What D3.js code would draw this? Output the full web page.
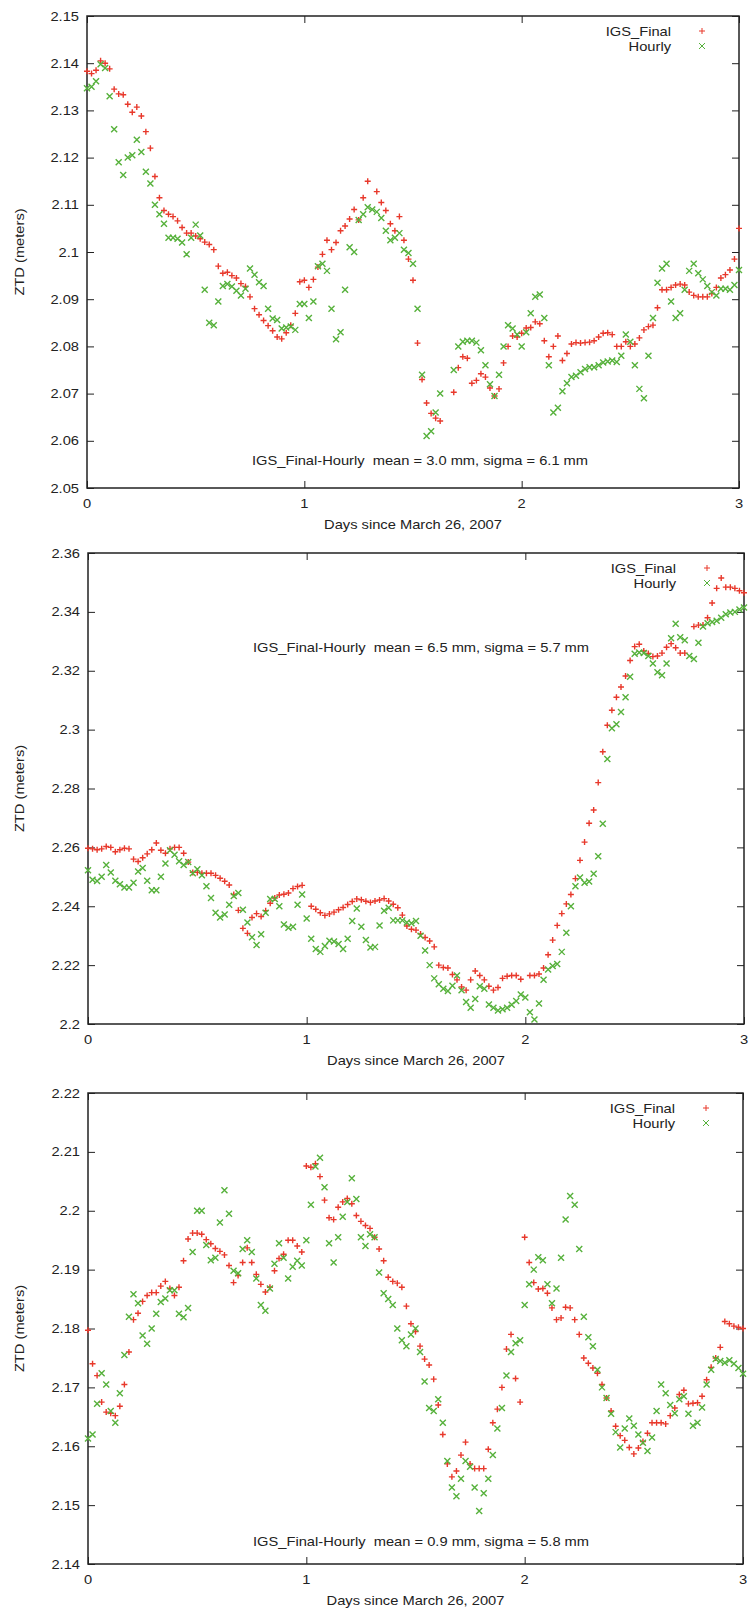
<!DOCTYPE html>
<html>
<head>
<meta charset="utf-8">
<script src="https://cdn.jsdelivr.net/npm/d3@7"></script>
<style>
  html, body { margin: 0; padding: 0; background: #fff; }
  svg { display: block; }
  text { font-family: "Liberation Sans", Arial, Helvetica, sans-serif; font-size: 13px; fill: #222; white-space: pre; }
</style>
</head>
<body>
<svg id="chart" width="751" height="1609"></svg>
<script>
// Zenith total delay, three stations, 3 days from March 26, 2007.
// Samples are half-hourly (1/48 day); null marks a data gap.
const samplesPerDay = 48;

const xTickValues = [0, 1, 2, 3];
const xTickLabels = ["0", "1", "2", "3"];
const seriesNames = ["IGS_Final", "Hourly"];

// Panel 1
const yTicks1 = [2.05, 2.06, 2.07, 2.08, 2.09, 2.10, 2.11, 2.12, 2.13, 2.14, 2.15];
const yTickLabels1 = ["2.05", "2.06", "2.07", "2.08", "2.09", "2.1", "2.11", "2.12", "2.13", "2.14", "2.15"];
const stats1 = "IGS_Final-Hourly  mean = 3.0 mm, sigma = 6.1 mm";
const final1 = [
  2.1383, 2.1378, 2.1385, 2.1405, 2.1400, 2.1388, 2.1345, 2.1335, 2.1333, 2.1313,
  2.1296, 2.1307, 2.1288, 2.1255, 2.1220, 2.1160, 2.1115, 2.1088, 2.1080, 2.1075,
  2.1066, 2.1052, 2.1040, 2.1040, 2.1034, 2.1028, 2.1021, 2.1016, 2.1005, 2.0970,
  2.0955, 2.0957, 2.0950, 2.0945, 2.0933, 2.0927, 2.0905, 2.0880, 2.0867, 2.0855,
  2.0844, 2.0833, 2.0820, 2.0816, 2.0829, 2.0845, 2.0870, 2.0937, 2.0940, 2.0925,
  2.0942, 2.0968, 2.0995, 2.1025, 2.1005, 2.1020, 2.1045, 2.1055, 2.1070, 2.1090,
  2.1068, 2.1115, 2.1150, null,   2.1128, 2.1105, 2.1088, 2.1060, 2.1045, 2.1075,
  2.1025, 2.0985, 2.0940, 2.0807, 2.0730, 2.0680, 2.0658, 2.0648, 2.0642, null,
  null,   2.0703, 2.0755, 2.0778, 2.0775, 2.0722, 2.0728, 2.0742, 2.0735, 2.0712,
  2.0695, 2.0710, 2.0765, 2.0800, 2.0822, 2.0820, 2.0828, 2.0839, 2.0840, 2.0852,
  2.0848, 2.0812, 2.0778, 2.0800, 2.0822, 2.0770, 2.0785, 2.0805, 2.0808, 2.0807,
  2.0808, 2.0809, 2.0812, 2.0820, 2.0828, 2.0829, 2.0825, 2.0800, 2.0800, 2.0810,
  2.0800, 2.0805, 2.0818, 2.0835, 2.0842, 2.0845, 2.0882, 2.0920, 2.0920, 2.0925,
  2.0930, 2.0932, 2.0930, 2.0915, 2.0908, 2.0905, 2.0905, 2.0905, 2.0912, 2.0925,
  2.0945, 2.0952, 2.0962, 2.0985, 2.1050
];
const hourly1 = [
  2.1347, 2.1350, 2.1362, 2.1398, 2.1390, 2.1330, 2.1260, 2.1190, 2.1163, 2.1200,
  2.1205, 2.1238, 2.1212, 2.1170, 2.1145, 2.1100, 2.1080, 2.1060, 2.1030, 2.1030,
  2.1028, 2.1020, 2.0995, 2.1030, 2.1058, 2.1035, 2.0920, 2.0850, 2.0845, 2.0895,
  2.0928, 2.0932, 2.0927, 2.0918, 2.0908, 2.0922, 2.0965, 2.0952, 2.0936, 2.0928,
  2.0880, 2.0859, 2.0856, 2.0838, 2.0840, 2.0842, 2.0835, 2.0890, 2.0890, 2.0860,
  2.0895, 2.0970, 2.0975, 2.0960, 2.0880, 2.0815, 2.0830, 2.0920, 2.1010, 2.1000,
  2.1068, 2.1080, 2.1095, 2.1090, 2.1085, 2.1072, 2.1045, 2.1025, 2.1030, 2.1040,
  2.1005, 2.0998, 2.0975, 2.0880, 2.0740, 2.0610, 2.0620, 2.0660, 2.0700, null,
  null,   2.0750, 2.0800, 2.0810, 2.0812, 2.0812, 2.0808, 2.0792, 2.0760, 2.0720,
  2.0695, 2.0740, 2.0800, 2.0845, 2.0838, 2.0825, 2.0800, 2.0830, 2.0870, 2.0905,
  2.0910, 2.0860, 2.0760, 2.0660, 2.0670, 2.0705, 2.0722, 2.0735, 2.0738, 2.0745,
  2.0752, 2.0756, 2.0756, 2.0760, 2.0766, 2.0768, 2.0770, 2.0767, 2.0780, 2.0825,
  2.0810, 2.0760, 2.0710, 2.0690, 2.0780, 2.0860, 2.0935, 2.0965, 2.0975, 2.0895,
  2.0860, 2.0870, 2.0920, 2.0960, 2.0975, 2.0955, 2.0942, 2.0928, 2.0915, 2.0908,
  2.0922, 2.0922, 2.0920, 2.0930, 2.0962
];

// Panel 2
const yTicks2 = [2.20, 2.22, 2.24, 2.26, 2.28, 2.30, 2.32, 2.34, 2.36];
const yTickLabels2 = ["2.2", "2.22", "2.24", "2.26", "2.28", "2.3", "2.32", "2.34", "2.36"];
const stats2 = "IGS_Final-Hourly  mean = 6.5 mm, sigma = 5.7 mm";
const final2 = [
  2.2597, 2.2595, 2.2592, 2.2595, 2.2603, 2.2600, 2.2585, 2.2592, 2.2597, 2.2595,
  2.2560, 2.2552, 2.2565, 2.2578, 2.2592, 2.2615, 2.2590, 2.2580, 2.2595, 2.2600,
  2.2600, 2.2580, 2.2550, 2.2515, 2.2515, 2.2512, 2.2512, 2.2512, 2.2505, 2.2495,
  2.2485, 2.2472, 2.2440, 2.2386, 2.2325, 2.2308, 2.2362, 2.2375, 2.2365, 2.2385,
  2.2410, 2.2428, 2.2438, 2.2441, 2.2445, 2.2460, 2.2467, 2.2471, null,   2.2400,
  2.2390, 2.2378, 2.2369, 2.2374, 2.2380, 2.2388, 2.2396, 2.2406, 2.2416, 2.2425,
  2.2422, 2.2417, 2.2413, 2.2418, 2.2421, 2.2426, 2.2418, 2.2407, 2.2395, 2.2370,
  2.2333, 2.2322, 2.2319, 2.2306, 2.2294, 2.2282, 2.2262, 2.2200, 2.2192, 2.2190,
  2.2168, 2.2150, 2.2126, 2.2115, 2.2150, 2.2180, 2.2165, 2.2150, 2.2128, 2.2115,
  2.2124, 2.2155, 2.2162, 2.2165, 2.2165, 2.2152, null,   2.2165, 2.2165, 2.2170,
  2.2190, 2.2235, 2.2285, 2.2335, 2.2375, 2.2408, 2.2440, 2.2494, 2.2556, 2.2618,
  2.2682, 2.2727, 2.2820, 2.2925, 2.3015, 2.3066, 2.3110, 2.3145, 2.3182, 2.3235,
  2.3282, 2.3290, 2.3267, 2.3259, 2.3248, 2.3250, 2.3260, 2.3280, 2.3292, 2.3278,
  2.3260, 2.3260, null,   2.3350, 2.3355, 2.3355, 2.3380, 2.3430, 2.3480, 2.3515,
  2.3484, 2.3484, 2.3480, 2.3472, 2.3465
];
const hourly2 = [
  2.2522, 2.2490, 2.2486, 2.2500, 2.2540, 2.2515, 2.2487, 2.2475, 2.2464, 2.2464,
  2.2480, 2.2518, 2.2530, 2.2487, 2.2454, 2.2454, 2.2500, 2.2545, 2.2590, 2.2575,
  2.2553, 2.2540, 2.2550, 2.2512, 2.2526, 2.2505, 2.2468, 2.2428, 2.2378, 2.2362,
  2.2372, 2.2405, 2.2435, 2.2445, 2.2388, 2.2345, 2.2295, 2.2268, 2.2305, 2.2378,
  2.2425, 2.2425, 2.2400, 2.2338, 2.2327, 2.2330, 2.2405, 2.2440, 2.2358, 2.2290,
  2.2255, 2.2245, 2.2265, 2.2283, 2.2280, 2.2272, 2.2255, 2.2290, 2.2350, 2.2392,
  2.2330, 2.2285, 2.2260, 2.2262, 2.2335, 2.2385, 2.2395, 2.2352, 2.2352, 2.2352,
  2.2345, 2.2342, 2.2350, 2.2300, 2.2250, 2.2200, 2.2155, 2.2135, 2.2120, 2.2112,
  2.2130, 2.2165, 2.2115, 2.2075, 2.2055, 2.2085, 2.2128, 2.2120, 2.2066, 2.2055,
  2.2046, 2.2050, 2.2055, 2.2065, 2.2078, 2.2100, 2.2090, 2.2040, 2.2015, 2.2070,
  2.2150, 2.2185, 2.2197, 2.2204, 2.2245, 2.2310, 2.2400, 2.2468, 2.2498, 2.2480,
  2.2484, 2.2510, 2.2570, 2.2680, 2.2900, 2.3005, 2.3018, 2.3060, 2.3110, 2.3180,
  2.3258, 2.3262, 2.3260, 2.3250, 2.3225, 2.3195, 2.3185, 2.3225, 2.3310, 2.3360,
  2.3314, 2.3304, 2.3250, 2.3240, 2.3295, 2.3350, 2.3361, 2.3366, 2.3370, 2.3380,
  2.3392, 2.3398, 2.3400, 2.3408, 2.3415
];

// Panel 3
const yTicks3 = [2.14, 2.15, 2.16, 2.17, 2.18, 2.19, 2.20, 2.21, 2.22];
const yTickLabels3 = ["2.14", "2.15", "2.16", "2.17", "2.18", "2.19", "2.2", "2.21", "2.22"];
const stats3 = "IGS_Final-Hourly  mean = 0.9 mm, sigma = 5.8 mm";
const final3 = [
  2.1797, 2.1740, 2.1720, 2.1675, 2.1658, 2.1656, 2.1652, 2.1668, 2.1705, 2.1760,
  2.1815, 2.1826, 2.1846, 2.1856, 2.1861, 2.1861, 2.1872, 2.1880, 2.1868, 2.1856,
  2.1870, 2.1915, 2.1952, 2.1962, 2.1962, 2.1960, 2.1951, 2.1944, 2.1936, 2.1931,
  2.1925, 2.1907, 2.1878, 2.1890, 2.1912, 2.1937, 2.1912, 2.1892, 2.1875, 2.1862,
  2.1870, 2.1898, 2.1919, 2.1926, 2.1950, 2.1950, 2.1940, 2.1930, 2.2076, 2.2074,
  2.2080, 2.2058, 2.2018, 2.1988, 2.1985, 2.2006, 2.2015, 2.2021, 2.2012, 2.1992,
  2.1982, 2.1975, 2.1970, 2.1955, 2.1935, 2.1915, 2.1887, 2.1880, 2.1877, 2.1870,
  2.1838, 2.1808, 2.1795, 2.1770, 2.1748, 2.1738, 2.1714, 2.1670, 2.1620, 2.1570,
  2.1548, 2.1558, 2.1585, 2.1607, 2.1570, 2.1562, 2.1562, 2.1562, 2.1595, 2.1640,
  2.1663, 2.1700, 2.1765, 2.1790, 2.1715, 2.1675, 2.1955, 2.1912, 2.1878, 2.1867,
  2.1868, 2.1860, 2.1835, 2.1815, 2.1818, 2.1836, 2.1835, 2.1815, 2.1790, 2.1750,
  2.1741, 2.1733, 2.1724, 2.1705, 2.1682, 2.1660, 2.1634, 2.1618, 2.1610, 2.1598,
  2.1587, 2.1597, 2.1608, 2.1622, 2.1640, 2.1640, 2.1640, 2.1638, 2.1652, 2.1665,
  2.1688, 2.1695, 2.1672, 2.1673, 2.1674, 2.1685, 2.1713, 2.1734, 2.1750, 2.1768,
  2.1812, 2.1808, 2.1804, 2.1802, 2.1800
];
const hourly3 = [
  2.1613, 2.1620, 2.1672, 2.1724, 2.1705, 2.1660, 2.1640, 2.1690, 2.1755, 2.1820,
  2.1858, 2.1843, 2.1788, 2.1774, 2.1800, 2.1825, 2.1845, 2.1851, 2.1865, 2.1865,
  2.1825, 2.1819, 2.1835, 2.1930, 2.2000, 2.2000, 2.1942, 2.1916, 2.1920, 2.1980,
  2.2035, 2.1995, 2.1898, 2.1894, 2.1935, 2.1950, 2.1930, 2.1885, 2.1840, 2.1830,
  2.1868, 2.1910, 2.1945, 2.1920, 2.1885, 2.1905, 2.1915, 2.1907, 2.1950, 2.2010,
  2.2075, 2.2090, 2.2040, 2.1945, 2.1912, 2.1955, 2.1990, 2.2015, 2.2055, 2.2020,
  2.1955, 2.1940, 2.1960, 2.1955, 2.1895, 2.1860, 2.1850, 2.1840, 2.1800, 2.1780,
  2.1770, 2.1790, 2.1800, 2.1760, 2.1710, 2.1665, 2.1660, 2.1680, 2.1640, 2.1575,
  2.1530, 2.1515, 2.1545, 2.1575, 2.1565, 2.1530, 2.1490, 2.1520, 2.1545, 2.1585,
  2.1630, 2.1665, 2.1720, 2.1760, 2.1775, 2.1780, 2.1840, 2.1875, 2.1900, 2.1921,
  2.1916, 2.1875, 2.1843, 2.1868, 2.1920, 2.1985, 2.2025, 2.2010, 2.1935, 2.1820,
  2.1785, 2.1770, 2.1730, 2.1700, 2.1682, 2.1655, 2.1624, 2.1598, 2.1630, 2.1647,
  2.1635, 2.1620, 2.1606, 2.1592, 2.1615, 2.1660, 2.1705, 2.1690, 2.1670, 2.1656,
  2.1680, 2.1685, 2.1655, 2.1635, 2.1640, 2.1666, 2.1705, 2.1730, 2.1748, 2.1745,
  2.1742, 2.1746, 2.1740, 2.1733, 2.1723
];

// Page layout of the three stacked plots (pixel frames and text offsets).
const panels = [
  { left: 87, right: 739, top: 16,   bottom: 488,  yTicks: yTicks1, yLabels: yTickLabels1, final: final1, hourly: hourly1, stats: stats1, statsX: 165, statsY: 460 },
  { left: 88, right: 744, top: 553,  bottom: 1024, yTicks: yTicks2, yLabels: yTickLabels2, final: final2, hourly: hourly2, stats: stats2, statsX: 165, statsY: 647 },
  { left: 88, right: 743, top: 1093, bottom: 1564, yTicks: yTicks3, yLabels: yTickLabels3, final: final3, hourly: hourly3, stats: stats3, statsX: 165, statsY: 1541 }
];

const RED = "#e8382b";
const GREEN = "#56b13b";
const INK = "#222";
const TEXT_STRETCH = 1.13;   // glyphs are drawn slightly wide
const TICK = 7;
const M = 3;                 // marker half-size

const plusPath = `M${-M},0H${M}M0,${-M}V${M}`;
const crossPath = `M${-M},${-M}L${M},${M}M${-M},${M}L${M},${-M}`;

const svg = d3.select("#chart");

function label(g, x, y, str, anchor, rotate) {
  return g.append("text")
    .attr("transform", `translate(${x},${y})` + (rotate ? ` rotate(${rotate})` : "") + ` scale(${TEXT_STRETCH},1)`)
    .attr("text-anchor", anchor)
    .attr("dy", "0.35em")
    .attr("xml:space", "preserve")
    .text(str);
}

panels.forEach(p => {
  const x = d3.scaleLinear().domain([0, 3]).range([p.left, p.right]);
  const y = d3.scaleLinear().domain([p.yTicks[0], p.yTicks[p.yTicks.length - 1]]).range([p.bottom, p.top]);
  const g = svg.append("g");

  // mirrored inward ticks on all four sides
  const axes = [
    { ax: d3.axisLeft(y).tickValues(p.yTicks), at: `translate(${p.left},0)` },
    { ax: d3.axisRight(y).tickValues(p.yTicks), at: `translate(${p.right},0)` },
    { ax: d3.axisBottom(x).tickValues(xTickValues), at: `translate(0,${p.bottom})` },
    { ax: d3.axisTop(x).tickValues(xTickValues), at: `translate(0,${p.top})` }
  ];
  axes.forEach(a => {
    const ag = g.append("g").attr("transform", a.at)
      .call(a.ax.tickSizeInner(-TICK).tickSizeOuter(0).tickFormat(""));
    ag.select(".domain").remove();
    ag.selectAll("line").attr("stroke", INK).attr("stroke-width", 1);
    ag.selectAll("text").remove();
  });

  // tick labels
  p.yTicks.forEach((v, i) => label(g, p.left - 8, y(v), p.yLabels[i], "end"));
  xTickValues.forEach((v, i) => label(g, x(v), p.bottom + 15, xTickLabels[i], "middle"));

  // frame
  g.append("rect")
    .attr("x", p.left).attr("y", p.top)
    .attr("width", p.right - p.left).attr("height", p.bottom - p.top)
    .attr("fill", "none").attr("stroke", INK).attr("stroke-width", 1.5);

  // axis titles
  label(g, (p.left + p.right) / 2, p.bottom + 36, "Days since March 26, 2007", "middle");
  label(g, 19, (p.top + p.bottom) / 2, "ZTD (meters)", "middle", -90);

  // data markers
  const toPoints = arr => arr.map((v, i) => ({ d: i / samplesPerDay, v })).filter(o => o.v !== null);
  const plot = g.append("g");
  plot.selectAll("path.final").data(toPoints(p.final)).join("path")
    .attr("class", "final")
    .attr("d", plusPath)
    .attr("transform", o => `translate(${x(o.d)},${y(o.v)})`)
    .attr("fill", "none").attr("stroke", RED).attr("stroke-width", 1.4);
  plot.selectAll("path.hourly").data(toPoints(p.hourly)).join("path")
    .attr("class", "hourly")
    .attr("d", crossPath)
    .attr("transform", o => `translate(${x(o.d)},${y(o.v)})`)
    .attr("fill", "none").attr("stroke", GREEN).attr("stroke-width", 1.4);

  // legend
  const legendEnd = p.right - 68;
  const legendMark = p.right - 37;
  [plusPath, crossPath].forEach((path, k) => {
    const ly = p.top + 15 + k * 15;
    label(g, legendEnd, ly, seriesNames[k], "end");
    g.append("path").attr("d", path)
      .attr("transform", `translate(${legendMark},${ly})`)
      .attr("fill", "none").attr("stroke", k === 0 ? RED : GREEN).attr("stroke-width", 1);
  });

  // difference statistics
  label(g, p.left + p.statsX, p.statsY, p.stats, "start");
});
</script>
</body>
</html>
